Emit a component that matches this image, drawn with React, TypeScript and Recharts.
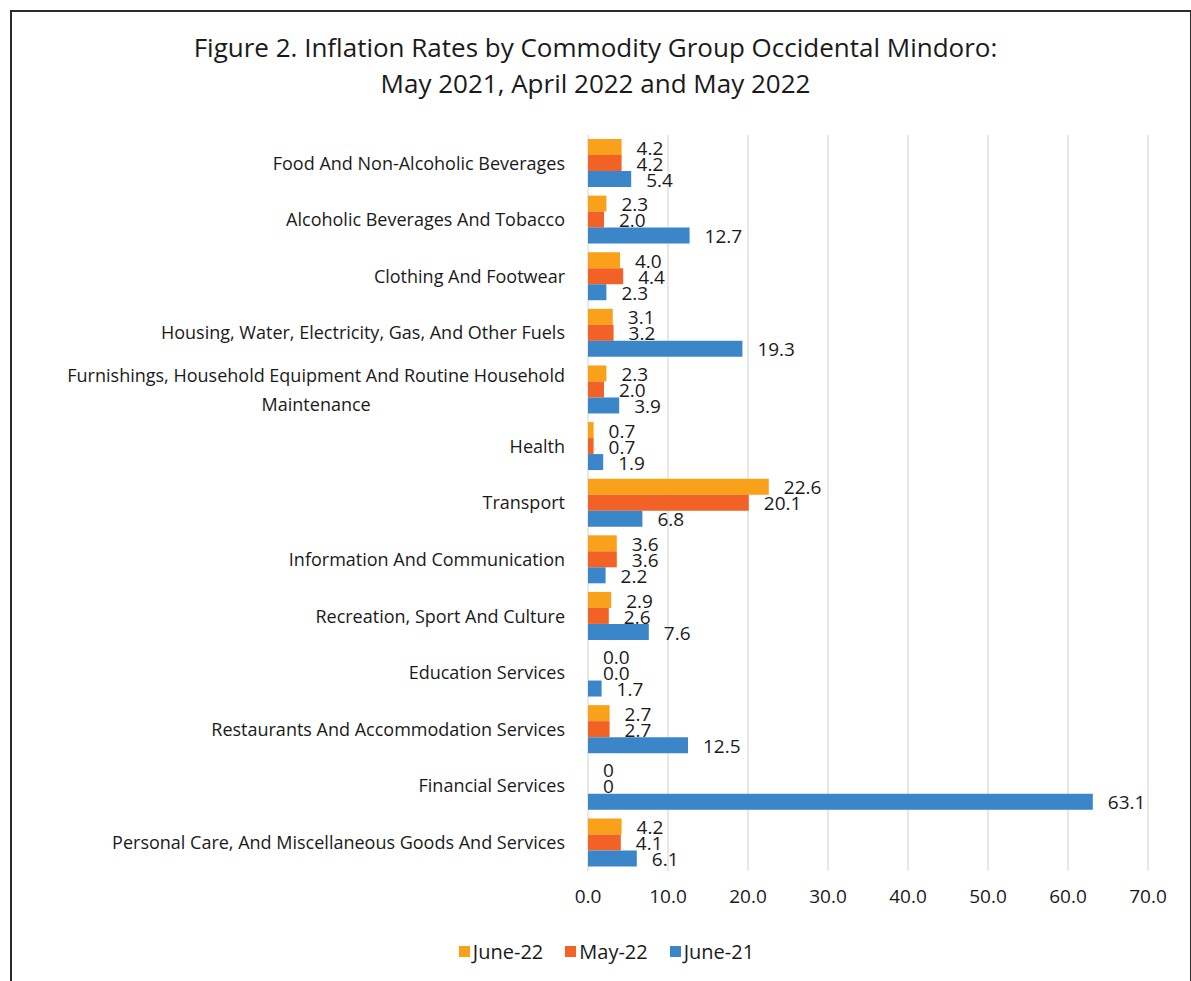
import React from 'react'
import { BarChart, Bar, XAxis, YAxis, CartesianGrid, LabelList } from 'recharts'

const categories = [
  'Food And Non-Alcoholic Beverages',
  'Alcoholic Beverages And Tobacco',
  'Clothing And Footwear',
  'Housing, Water, Electricity, Gas, And Other Fuels',
  'Furnishings, Household Equipment And Routine Household Maintenance',
  'Health',
  'Transport',
  'Information And Communication',
  'Recreation, Sport And Culture',
  'Education Services',
  'Restaurants And Accommodation Services',
  'Financial Services',
  'Personal Care, And Miscellaneous Goods And Services',
]

const june22 = [4.2, 2.3, 4.0, 3.1, 2.3, 0.7, 22.6, 3.6, 2.9, 0.0, 2.7, 0, 4.2]
const may22 = [4.2, 2.0, 4.4, 3.2, 2.0, 0.7, 20.1, 3.6, 2.6, 0.0, 2.7, 0, 4.1]
const june21 = [5.4, 12.7, 2.3, 19.3, 3.9, 1.9, 6.8, 2.2, 7.6, 1.7, 12.5, 63.1, 6.1]

// Financial Services shows plain "0" in the source
const plainLabelCategories = ['Financial Services']

const xTicks = [0, 10, 20, 30, 40, 50, 60, 70]

const seriesInfo = [
  { key: 'june22', name: 'June-22', color: '#F9A11B' },
  { key: 'may22', name: 'May-22', color: '#F26226' },
  { key: 'june21', name: 'June-21', color: '#3B86C8' },
]

const data = categories.map((name, i) => ({
  name,
  june22: june22[i],
  may22: may22[i],
  june21: june21[i],
}))

const FONT = '"Open Sans", "Noto Sans", sans-serif'
const TEXT = '#1a1a1a'
const CAT_SIZE = 18

let measureCtx: CanvasRenderingContext2D | null = null
function textWidth(s: string, font: string) {
  if (!measureCtx) measureCtx = document.createElement('canvas').getContext('2d')
  if (!measureCtx) return s.length * 9.8
  measureCtx.font = font
  return measureCtx.measureText(s).width
}

function wrap(s: string, max: number) {
  const words = s.split(' ')
  const lines: string[] = []
  let cur = ''
  words.forEach(w => {
    const next = cur ? cur + ' ' + w : w
    if (next.length > max && cur) {
      lines.push(cur)
      cur = w
    } else cur = next
  })
  if (cur) lines.push(cur)
  return lines
}

const CategoryTick = ({ x, y, payload }: any) => {
  const lines = wrap(payload.value, 56)
  if (lines.length === 1) {
    return (
      <text x={x} y={y} dy="0.35em" textAnchor="end" fill={TEXT} fontSize={CAT_SIZE} fontFamily={FONT}>
        {payload.value}
      </text>
    )
  }
  const w = Math.max(...lines.map(l => textWidth(l, `${CAT_SIZE}px ${FONT}`)))
  const cx = x - w / 2
  const lh = 29
  const start = y - ((lines.length - 1) * lh) / 2
  return (
    <text textAnchor="middle" fill={TEXT} fontSize={CAT_SIZE} fontFamily={FONT}>
      {lines.map((l, i) => (
        <tspan key={i} x={cx} y={start + i * lh} dy="0.35em">{l}</tspan>
      ))}
    </text>
  )
}

const ValueLabel = (props: any) => {
  const { x, y, width, height, value, index } = props
  const txt = plainLabelCategories.includes(categories[index]) ? String(value) : Number(value).toFixed(1)
  return (
    <text x={x + Math.max(width, 0) + 15} y={y + height / 2 + 1} dy="0.35em" textAnchor="start" fill={TEXT} fontSize={19} fontFamily={FONT}>
      {txt}
    </text>
  )
}

export default function App() {
  return (
    <div style={{ position: 'absolute', left: 0, top: 0, width: 1191, height: 981, background: '#fff', overflow: 'hidden', fontFamily: FONT }}>
      <div style={{ position: 'absolute', left: 10, top: 10, width: 1178, height: 1000, borderTop: '2px solid #2a2a2a', borderLeft: '2px solid #2a2a2a', borderRight: '2px solid #2a2a2a' }} />
      <div style={{ position: 'absolute', left: 0, top: 29, width: 1191, textAlign: 'center', fontSize: 26, lineHeight: '36px', color: TEXT }}>
        <div>Figure 2. Inflation Rates by Commodity Group Occidental Mindoro:</div>
        <div>May 2021, April 2022 and May 2022</div>
      </div>
      <div style={{ position: 'absolute', left: 0, top: 0 }}>
        <BarChart
          width={1191}
          height={920}
          data={data}
          layout="vertical"
          margin={{ top: 135, right: 43, left: 0, bottom: 0 }}
          barGap={0}
          barSize={16}
        >
          <CartesianGrid horizontal={false} stroke="#d9d9d9" strokeWidth={1.2} />
          <XAxis
            type="number"
            domain={[0, 70]}
            ticks={xTicks}
            tickFormatter={(v: number) => v.toFixed(1)}
            axisLine={false}
            tickLine={false}
            tickSize={0}
            tickMargin={19}
            height={49}
            tick={{ fontSize: 19, fill: TEXT, fontFamily: FONT }}
          />
          <YAxis
            type="category"
            dataKey="name"
            width={588}
            axisLine={false}
            tickLine={false}
            tickSize={0}
            tickMargin={23}
            interval={0}
            tick={<CategoryTick />}
          />
          {seriesInfo.map(s => (
            <Bar key={s.key} dataKey={s.key} name={s.name} fill={s.color} minPointSize={0.01} isAnimationActive={false}>
              <LabelList dataKey={s.key} content={<ValueLabel />} />
            </Bar>
          ))}
        </BarChart>
      </div>
      <div style={{ position: 'absolute', left: 0, top: 938, width: 1191, display: 'flex', justifyContent: 'center', paddingLeft: 22, boxSizing: 'border-box', fontSize: 20, color: TEXT }}>
        {seriesInfo.map((s, i) => (
          <div key={s.key} style={{ display: 'flex', alignItems: 'center', marginRight: i < seriesInfo.length - 1 ? 22 : 0 }}>
            <span style={{ width: 11, height: 11, background: s.color, display: 'inline-block', marginRight: 3 }} />
            <span>{s.name}</span>
          </div>
        ))}
      </div>
    </div>
  )
}
